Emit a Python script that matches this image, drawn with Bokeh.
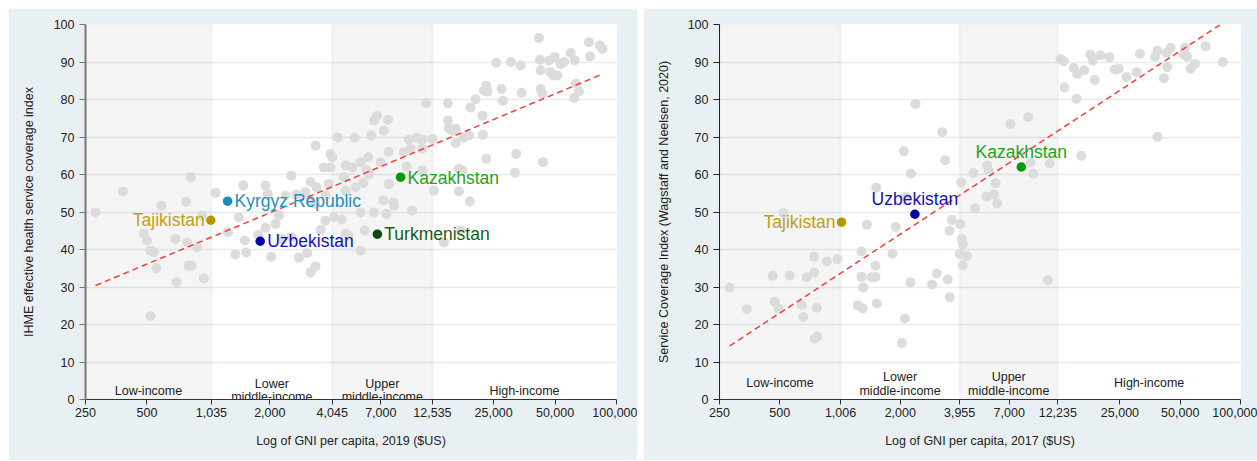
from bokeh.plotting import figure
from bokeh.models import FixedTicker, NumeralTickFormatter, BoxAnnotation, Range1d
from bokeh.layouts import row
from bokeh.embed import file_html
from bokeh.resources import INLINE
from bokeh.core.properties import value
import math

FONT = "Liberation Sans"
BG = "#e9f0f3"

# ---------------- data: left panel (2019, IHME) ----------------
gni19 = [280, 381, 589, 779, 820, 933, 1084, 483, 501, 521, 541, 557, 521, 690, 788, 882, 800, 828, 698, 950,
         1482, 1906, 1958, 2390, 2550, 2698, 1906, 2134, 2216, 1755, 1509, 1358, 1534, 2033, 2550, 2777, 3053, 3548, 3352, 3170,
         1410, 1247, 3749, 4122, 4497, 3749, 3896, 3352, 3962, 4050, 3680, 3962, 4710, 5070, 5570, 4610, 5270, 4875, 5570,
         41670, 25760, 30400, 33900, 42150, 46680, 49800, 53250, 55350, 59600, 62400, 73300, 82900, 85300, 74200, 42480, 47530, 49080, 51300,
         23000, 22390, 23280, 27350, 34260, 42480, 43370, 63200, 65450, 62000,
         20400, 19270, 27780, 22010, 14920, 11690, 14920, 15100, 15700, 16290,
         16290, 17750, 18920, 22160, 23000, 32290, 31770, 43650, 16900, 17580,
         16900, 19130, 12740, 12530, 11170, 10490, 9610, 11170, 9800, 9080,
         9370, 11170, 7640, 7240, 7590, 6470, 6730, 6280, 5220, 4310,
         6080, 6980, 5960, 6120, 5740, 4710, 7670, 7200, 8060, 8110,
         6470, 7470, 9970, 5570, 5840, 17210, 4710, 14260, 2302, 3170,
         3390, 3170, 3350, 2990]
ihme = [49.9, 55.5, 51.7, 52.7, 59.3, 49.1, 55.1, 44.2, 42.4, 39.7, 39.3, 35.0, 22.2, 42.8, 41.9, 40.6, 35.7, 35.7, 31.3, 32.3,
        57.1, 57.1, 54.8, 54.4, 59.7, 54.6, 45.8, 46.8, 49.1, 43.9, 42.4, 38.7, 39.2, 38.1, 43.3, 37.8, 39.1, 45.3, 35.5, 33.9,
        48.6, 44.6, 47.7, 48.6, 48.0, 54.4, 57.5, 67.7, 65.5, 64.6, 61.9, 61.9, 62.4, 61.9, 63.3, 59.3, 56.6, 43.7, 39.7,
        96.4, 89.8, 90.0, 89.1, 90.6, 90.4, 91.3, 89.5, 90.0, 92.4, 90.4, 95.3, 94.4, 93.5, 91.5, 87.8, 87.3, 86.4, 86.4,
        83.7, 82.4, 82.1, 82.8, 81.8, 82.8, 81.5, 84.2, 82.2, 80.4,
        80.1, 77.9, 79.7, 75.7, 79.0, 79.0, 74.4, 72.3, 71.7, 72.2,
        68.4, 69.8, 70.4, 70.6, 64.2, 65.5, 60.5, 63.3, 61.5, 61.1,
        55.5, 52.8, 55.7, 69.5, 69.3, 69.8, 69.3, 66.9, 66.9, 65.9,
        62.1, 61.1, 66.1, 71.7, 74.6, 74.4, 75.7, 70.4, 69.8, 69.9,
        64.6, 63.3, 61.1, 60.0, 57.7, 55.7, 57.5, 53.1, 52.6, 51.7,
        49.9, 49.5, 50.4, 49.9, 45.1, 45.1, 44.2, 41.9, 42.8, 58.0,
        56.6, 53.1, 52.2, 55.3]
hl19_names = ["Tajikistan", "Kyrgyz Republic", "Uzbekistan", "Kazakhstan", "Turkmenistan"]
hl19_gni = [1028, 1242, 1795, 8750, 6730]
hl19_val = [47.8, 52.9, 42.2, 59.3, 44.1]
fit19_x = [280, 84600]
fit19_y = [30.4, 86.7]
ticks19 = [250, 500, 1035, 2000, 4045, 7000, 12535, 25000, 50000, 100000]
bounds19 = [250, 1035, 4045, 12535, 100000]

# ---------------- data: right panel (2017, Wagstaff & Neelsen) ----------------
gni17 = [2383, 3237, 2083, 3350, 2258, 1517, 2127, 522, 1361, 1900,
         4640, 4025, 4730, 3620, 3980, 3520, 4060, 4100, 3960, 4300,
         4100, 1280, 1830, 743, 858, 970, 743, 461, 561, 682,
         281, 342, 472, 491, 644, 655, 764, 747, 769, 1280,
         1434, 1503, 1503, 1306, 1227, 1300, 1527, 2108, 2036, 2248,
         2885, 3040, 3450, 3530, 10910, 12620, 13120, 17820, 18320, 19990,
         22170, 31470, 38450, 37410, 42760, 44780, 52850, 51880, 54200, 66950,
         81650, 59290, 56360, 43050, 41380, 30270, 26970, 23590, 24700, 18740,
         16590, 14720, 15300, 13210, 15170, 38540, 16020, 7100, 8700, 8930,
         9220, 11170, 5430, 5530, 5980, 5390, 5860, 6100]
sci = [78.8, 71.3, 66.2, 63.8, 60.3, 56.5, 54.1, 49.7, 46.6, 46.0,
       60.4, 57.9, 51.0, 47.9, 46.8, 45.0, 42.8, 41.4, 38.8, 38.3,
       35.8, 39.5, 38.9, 38.1, 36.8, 37.4, 33.9, 33.0, 33.1, 32.6,
       29.8, 24.1, 26.1, 24.3, 25.2, 22.0, 24.5, 16.2, 16.8, 32.7,
       32.6, 32.7, 35.7, 29.9, 25.1, 24.3, 25.6, 21.6, 15.1, 31.2,
       30.7, 33.6, 32.0, 27.3, 31.8, 90.8, 90.2, 92.0, 90.4, 91.8,
       91.3, 92.2, 93.0, 91.4, 92.4, 93.8, 93.8, 92.0, 91.4, 94.2,
       90.0, 89.5, 88.2, 88.6, 85.7, 87.3, 86.0, 88.0, 88.2, 85.2,
       87.8, 88.4, 86.8, 83.2, 80.2, 70.1, 65.0, 73.5, 75.3, 63.2,
       60.2, 63.0, 62.4, 61.0, 57.7, 54.1, 54.7, 52.3]
hl17_names = ["Tajikistan", "Uzbekistan", "Kazakhstan"]
hl17_gni = [1017, 2365, 8040]
hl17_val = [47.3, 49.4, 62.0]
fit17_x = [281, 81000]
fit17_y = [14.3, 100.3]
ticks17 = [250, 500, 1006, 2000, 3955, 7000, 12235, 25000, 50000, 100000]
bounds17 = [250, 1006, 3955, 12235, 100000]

income_groups = [["Low-income"], ["Lower", "middle-income"], ["Upper", "middle-income"], ["High-income"]]

STYLE = {
    "Tajikistan": ("#b8960a", "#bf9f16"),
    "Kyrgyz Republic": ("#178cc0", "#1e90c4"),
    "Uzbekistan": ("#0000a8", "#1212b8"),
    "Kazakhstan": ("#009a00", "#22a322"),
    "Turkmenistan": ("#0b4a0b", "#1a5c1a"),
}

H = 452


def make_panel(gx, gy, hn, hx, hy, fx, fy, ticks, bounds, xtitle, ytitle, width,
               mbl, mbr, yaxis_color, yaxis_width, label_pos, inc_y, title_standoff):
    p = figure(width=width, height=H, x_axis_type="log",
               x_range=Range1d(250, 100000), y_range=Range1d(0, 100),
               output_backend="svg", toolbar_location=None,
               background_fill_color="white", border_fill_color=BG,
               min_border_left=mbl, min_border_right=mbr,
               min_border_top=16, min_border_bottom=H - 16 - 375)
    p.outline_line_color = None
    p.xgrid.visible = False
    p.ygrid.ticker = FixedTicker(ticks=list(range(10, 101, 10)))
    p.ygrid.grid_line_color = "#e3ecef"
    p.ygrid.grid_line_width = 1.5

    # income bands
    for i in (0, 2):
        p.add_layout(BoxAnnotation(left=bounds[i], right=bounds[i + 1],
                                   fill_color="#000000", fill_alpha=0.04,
                                   line_color="#000000", line_alpha=0.04, line_width=2,
                                   level="underlay"))

    # axes
    p.xaxis.ticker = FixedTicker(ticks=ticks)
    p.xaxis.formatter = NumeralTickFormatter(format="0,0")
    p.yaxis.ticker = FixedTicker(ticks=list(range(0, 101, 10)))
    for ax in (p.xaxis[0], p.yaxis[0]):
        ax.minor_tick_line_color = None
        ax.major_tick_in = 0
        ax.major_label_text_font = FONT
        ax.major_label_text_font_size = "12.5px"
        ax.major_label_text_color = "#222222"
        ax.axis_label_text_font = FONT
        ax.axis_label_text_font_size = "12.5px"
        ax.axis_label_text_font_style = "normal"
        ax.axis_label_text_color = "#222222"
    p.xaxis.axis_line_color = "#333333"
    p.xaxis.major_tick_line_color = "#333333"
    p.xaxis.major_tick_out = 5
    p.xaxis.major_label_standoff = 3
    p.xaxis.axis_label = xtitle
    p.xaxis.axis_label_standoff = 14
    p.yaxis.axis_line_color = yaxis_color
    p.yaxis.axis_line_width = yaxis_width
    p.yaxis.major_tick_line_color = yaxis_color
    p.yaxis.major_tick_out = 6
    p.yaxis.major_label_standoff = 5
    p.yaxis.axis_label = ytitle
    p.yaxis.axis_label_standoff = title_standoff

    # points
    p.scatter(gx, gy, size=10, color="#dcdcdc", line_color=None)
    p.line(fx, fy, line_color="#ff3c3c", line_width=1.5, line_dash="6 4")

    # income-group labels (centred at geometric mean of band)
    for k, lines in enumerate(income_groups):
        cx = math.sqrt(bounds[k] * bounds[k + 1])
        if len(lines) == 1:
            ys = [inc_y[0]]
        else:
            ys = [inc_y[1], inc_y[2]]
        p.text(x=[cx] * len(lines), y=ys, text=lines, text_align="center",
               text_baseline="middle", text_font=value(FONT),
               text_font_size="12.5px", text_color="#222222")

    # highlighted countries
    for name, x, y in zip(hn, hx, hy):
        dot_c, txt_c = STYLE[name]
        p.scatter([x], [y], size=9.5, color=dot_c, line_color=None)
        align, dx, dy = label_pos[name]
        p.text(x=[x], y=[y], text=[name], x_offset=dx, y_offset=dy,
               text_align=align, text_baseline="middle", text_font=value(FONT),
               text_font_size="17.5px", text_color=txt_c)
    return p


pos19 = {
    "Tajikistan": ("right", -6, 0),
    "Kyrgyz Republic": ("left", 7, 0),
    "Uzbekistan": ("left", 7, 0),
    "Kazakhstan": ("left", 7, 1),
    "Turkmenistan": ("left", 7, 0),
}
pos17 = {
    "Tajikistan": ("right", -6, 0),
    "Uzbekistan": ("center", 0, -15),
    "Kazakhstan": ("center", 0, -15),
}

p1 = make_panel(gni19, ihme, hl19_names, hl19_gni, hl19_val, fit19_x, fit19_y,
                ticks19, bounds19, "Log of GNI per capita, 2019 ($US)",
                "IHME effective health service coverage index", 629, 77, 21,
                "#777777", 2, pos19, [2.4, 4.1, 0.7], 15)
p2 = make_panel(gni17, sci, hl17_names, hl17_gni, hl17_val, fit17_x, fit17_y,
                ticks17, bounds17, "Log of GNI per capita, 2017 ($US)",
                "Service Coverage Index (Wagstaff and Neelsen, 2020)", 614, 76, 17,
                "#222222", 1, pos17, [4.3, 5.9, 2.4], 14)

layout = row(p1, p2, spacing=6)
layout.margin = (8, 0, 0, 8)
open("out.html", "w").write(file_html(layout, INLINE))
